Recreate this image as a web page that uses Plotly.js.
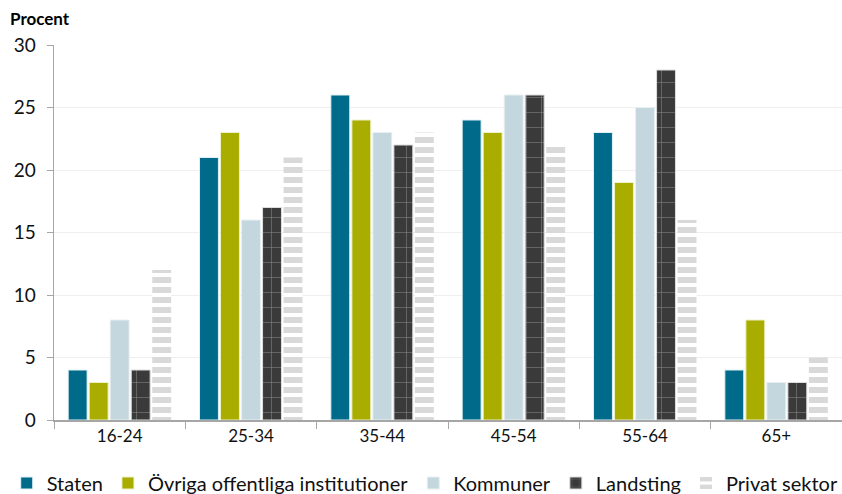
<!DOCTYPE html>
<html><head><meta charset="utf-8">
<script src="https://cdn.plot.ly/plotly-3.0.1.min.js"></script>
<style>body{margin:0;background:#fff}#chart{width:842px;height:494px}</style>
</head><body><div id="chart"></div>
<script>
const categories = ["16-24","25-34","35-44","45-54","55-64","65+"];
const staten = [4,21,26,24,23,4];
const ovriga = [3,23,24,23,19,8];
const kommuner = [8,16,23,26,25,3];
const landsting = [4,17,22,26,28,3];
const privat = [12,21,23,22,16,5];
const seriesNames = ["Staten","Övriga offentliga institutioner","Kommuner","Landsting","Privat sektor"];
const yTicks = [0,5,10,15,20,25,30];

const F = "Lato, 'Open Sans', sans-serif";
const traces = [
  {name: seriesNames[0], y: staten, marker:{color:"#006a8a", line:{color:"#dff0f4", width:1}}},
  {name: seriesNames[1], y: ovriga, marker:{color:"#a8ad00", line:{color:"#eef0c8", width:1}}},
  {name: seriesNames[2], y: kommuner, marker:{color:"#c4d7de", line:{color:"#e8f0f3", width:1}}},
  {name: seriesNames[3], y: landsting, marker:{color:"#3a3a3a", line:{color:"#dddddd", width:1},
     pattern:{shape:"+", bgcolor:"#3a3a3a", fgcolor:"#8a8a8a", size:15, solidity:0.07}}},
  {name: seriesNames[4], y: privat, marker:{color:"#d9d9d9", line:{width:0},
     pattern:{shape:"-", bgcolor:"#ffffff", fgcolor:"#d9d9d9", size:10, solidity:0.6, fillmode:"replace"}}}
].map(t => Object.assign({type:"bar", x: categories}, t));

const layout = {
  width: 842, height: 494,
  margin: {l: 54, r: 0, t: 45, b: 74, autoexpand: false},
  paper_bgcolor: "#fff", plot_bgcolor: "#fff",
  barmode: "group", bargap: 0.2, bargroupgap: 0.1,
  font: {family: F, color: "#111"},
  xaxis: {
    type: "category", showline: true, linecolor: "#a6a6a6", linewidth: 1.5,
    ticks: "outside", tickson: "boundaries", ticklen: 7, tickcolor: "#a6a6a6",
    tickfont: {size: 17, color: "#111"}, showgrid: false, automargin: false
  },
  yaxis: {
    range: [0, 30], tickvals: yTicks, showline: true, linecolor: "#a6a6a6", linewidth: 1.5,
    ticks: "outside", ticklen: 6, tickcolor: "#a6a6a6", ticklabelstandoff: 7,
    gridcolor: "#efefef", gridwidth: 1, zeroline: false, automargin: false,
    tickfont: {size: 19, color: "#111"}
  },
  annotations: [{text: "<b>Procent</b>", xref: "paper", yref: "paper", x: -0.059, y: 1.038,
    xanchor: "left", yanchor: "bottom", showarrow: false, font: {size: 17, color: "#000"}}],
  legend: {orientation: "h", x: -0.06, xanchor: "left", y: -0.168, yanchor: "middle",
    font: {size: 20, color: "#111"}, itemwidth: 30, tracegroupgap: 0},
  showlegend: true
};
Plotly.newPlot("chart", traces, layout, {displayModeBar: false, staticPlot: true});
</script></body></html>
